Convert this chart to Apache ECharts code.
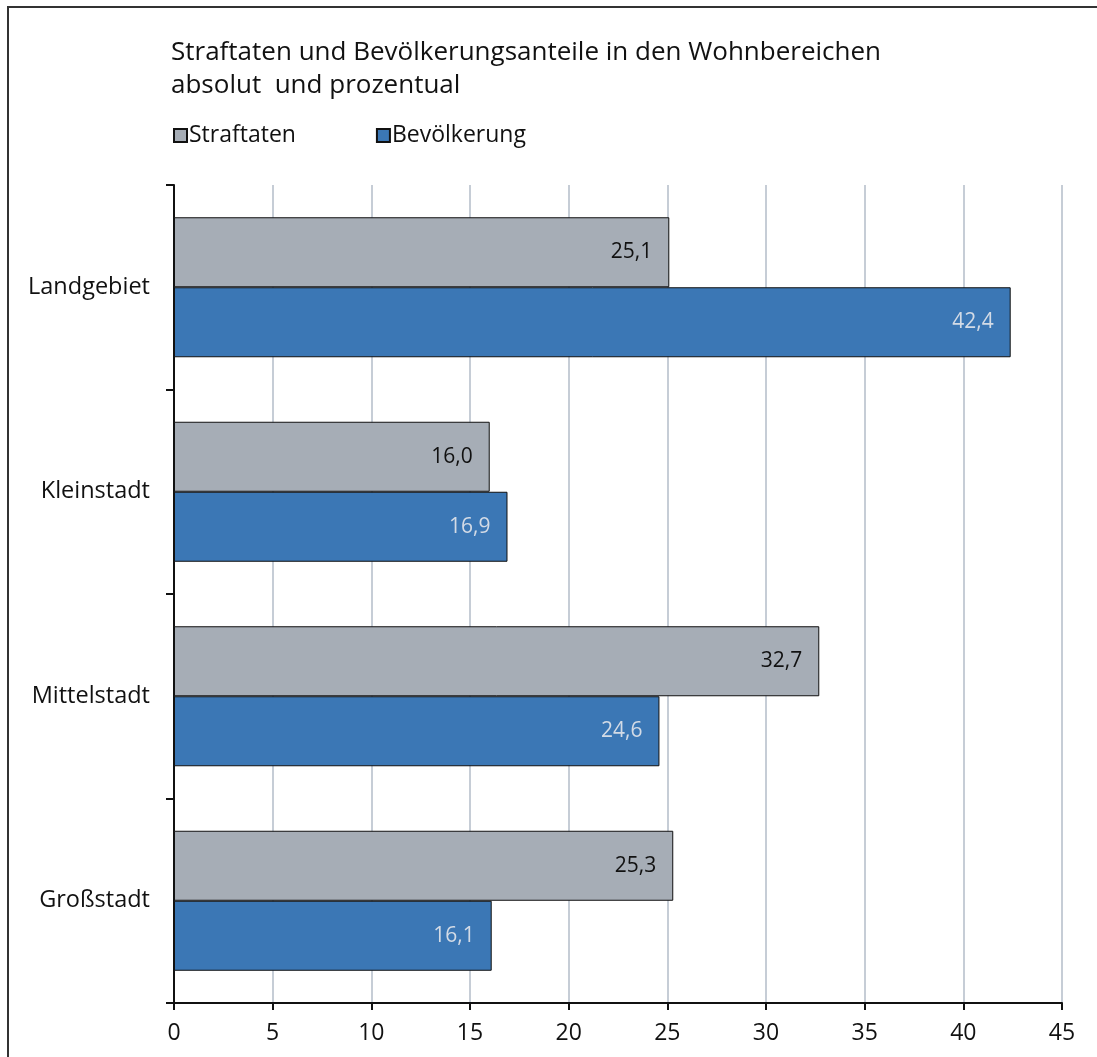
<!DOCTYPE html>
<html><head><meta charset="utf-8">
<script src="https://cdn.jsdelivr.net/npm/echarts@6/dist/echarts.min.js"></script>
<style>html,body{margin:0;padding:0;background:#fff}#c{width:1097px;height:1057px}</style>
</head><body><div id="c"></div>
<script>
const categories = ['Landgebiet', 'Kleinstadt', 'Mittelstadt', 'Großstadt'];
const straftaten = [25.1, 16.0, 32.7, 25.3];
const bevoelkerung = [42.4, 16.9, 24.6, 16.1];
const seriesNames = ['Straftaten', 'Bevölkerung'];
const xTicks = { min: 0, max: 45, interval: 5 };

const FONT = '"Open Sans", "Noto Sans", sans-serif';
const fmt = p => p.value.toFixed(1).replace('.', ',');
const chart = echarts.init(document.getElementById('c'), null, { renderer: 'canvas' });
chart.setOption({
  animation: false,
  textStyle: { fontFamily: FONT },
  title: {
    text: 'Straftaten und Bevölkerungsanteile in den Wohnbereichen\nabsolut  und prozentual',
    left: 166, top: 31,
    textStyle: { fontFamily: FONT, fontSize: 26, fontWeight: 'normal', color: '#111', lineHeight: 33 }
  },
  legend: {
    left: 168, top: 119, itemWidth: 13, itemHeight: 13, itemGap: 80, icon: 'rect',
    data: seriesNames,
    textStyle: { fontFamily: FONT, fontSize: 23, color: '#111', padding: [0, 0, 0, -3] }
  },
  graphic: [{
    type: 'rect', shape: { x: 8, y: 7, width: 1200, height: 1200 },
    style: { fill: 'none', stroke: '#333', lineWidth: 2 }, silent: true
  }],
  grid: { left: 174, right: 35, top: 185, bottom: 54 },
  xAxis: {
    type: 'value', min: xTicks.min, max: xTicks.max, interval: xTicks.interval,
    axisLine: { show: true, lineStyle: { color: '#111', width: 2 } },
    axisTick: { show: true, length: 7, lineStyle: { color: '#111', width: 2 } },
    axisLabel: { fontFamily: FONT, fontSize: 23, color: '#111', margin: 19 },
    splitLine: { show: true, lineStyle: { color: '#b3bdc9', width: 1.5 } }
  },
  yAxis: {
    type: 'category', data: categories, inverse: true,
    axisLine: { show: true, lineStyle: { color: '#111', width: 2 } },
    axisTick: { show: true, length: 8, lineStyle: { color: '#111', width: 2 } },
    axisLabel: { fontFamily: FONT, fontSize: 23.5, color: '#111', margin: 24 },
    splitLine: { show: false }
  },
  series: [
    {
      name: seriesNames[0], type: 'bar', data: straftaten, barWidth: 70, barGap: '0%',
      itemStyle: { color: '#a6adb6', borderColor: '#111', borderWidth: 1 },
      label: { show: true, position: 'insideRight', distance: 17, formatter: fmt,
        fontFamily: FONT, fontSize: 21, color: '#111' }
    },
    {
      name: seriesNames[1], type: 'bar', data: bevoelkerung, barWidth: 70, barGap: '0%',
      itemStyle: { color: '#3b77b5', borderColor: '#111', borderWidth: 1 },
      label: { show: true, position: 'insideRight', distance: 17, formatter: fmt,
        fontFamily: FONT, fontSize: 21, color: '#d3dbe6' }
    }
  ]
});
</script></body></html>
